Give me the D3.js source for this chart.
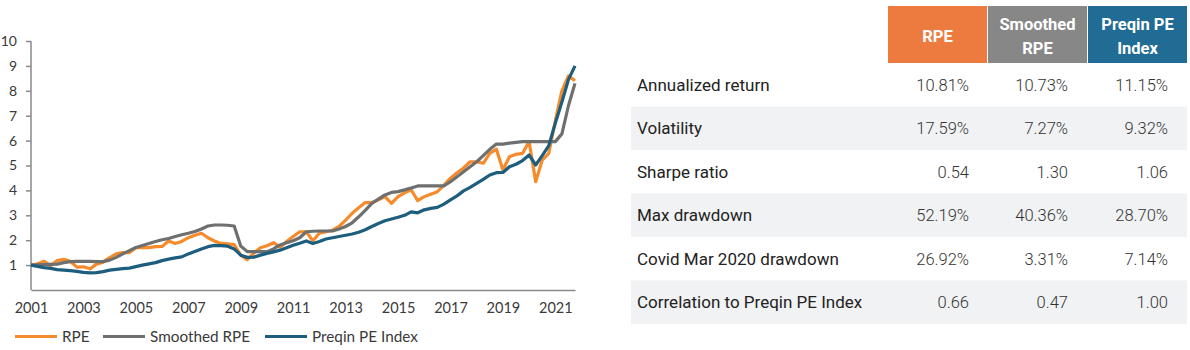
<!DOCTYPE html>
<html><head><meta charset="utf-8">
<script src="https://cdn.jsdelivr.net/npm/d3@7"></script>
<style>
html,body{margin:0;padding:0;background:#fff;}
svg{display:block;}
</style></head>
<body>
<svg id="c" width="1190" height="350"></svg>
<script>
// ---- data ----
const startYear = 2001;           // first quarter 2001 Q1
const quartersPerYear = 4;
const rpe = [
 1.00,1.05,1.15,0.97, 1.18,1.23,1.15,0.92, 0.93,0.85,1.04,1.12, 1.30,1.45,1.50,1.50,
 1.70,1.70,1.70,1.74, 1.75,1.97,1.87,1.95, 2.10,2.20,2.28,2.10, 1.97,1.87,1.85,1.82,
 1.40,1.22,1.48,1.70, 1.78,1.90,1.72,1.95, 2.15,2.34,2.34,1.98, 2.28,2.34,2.40,2.55,
 2.81,3.08,3.30,3.51, 3.51,3.62,3.75,3.48, 3.75,3.90,4.02,3.59, 3.75,3.85,3.95,4.20,
 4.49,4.71,4.90,5.15, 5.15,5.09,5.49,5.66, 4.82,5.35,5.45,5.49, 5.96,4.35,5.22,5.49,
 6.80,8.00,8.60,8.40];
const smoothed = [
 1.00,1.01,1.02,1.03, 1.04,1.10,1.14,1.15, 1.15,1.15,1.14,1.14, 1.20,1.31,1.45,1.58,
 1.71,1.79,1.87,1.95, 2.02,2.07,2.15,2.22, 2.28,2.35,2.45,2.57, 2.61,2.61,2.60,2.57,
 1.77,1.54,1.54,1.54, 1.54,1.65,1.81,1.90, 1.98,2.10,2.34,2.36, 2.37,2.37,2.37,2.45,
 2.55,2.70,2.94,3.20, 3.48,3.65,3.82,3.92, 3.95,4.02,4.10,4.18, 4.18,4.18,4.18,4.18,
 4.35,4.55,4.75,4.95, 5.15,5.40,5.65,5.86, 5.86,5.90,5.93,5.96, 5.96,5.96,5.96,5.96,
 5.96,6.27,7.40,8.30];
const preqin = [
 1.00,0.95,0.90,0.87, 0.82,0.80,0.78,0.75, 0.71,0.69,0.70,0.74, 0.80,0.83,0.86,0.88,
 0.94,1.00,1.05,1.10, 1.18,1.24,1.29,1.33, 1.45,1.55,1.65,1.74, 1.79,1.78,1.76,1.65,
 1.40,1.31,1.32,1.40, 1.47,1.53,1.60,1.70, 1.80,1.88,1.97,1.87, 1.95,2.05,2.10,2.15,
 2.20,2.25,2.32,2.42, 2.55,2.67,2.78,2.85, 2.92,3.00,3.14,3.10, 3.22,3.28,3.32,3.45,
 3.62,3.78,3.98,4.12, 4.28,4.44,4.62,4.71, 4.72,4.95,5.05,5.20, 5.42,5.02,5.40,5.80,
 6.70,7.55,8.45,9.00];
const xTickYears = [2001,2003,2005,2007,2009,2011,2013,2015,2017,2019,2021];
const yTicks = [1,2,3,4,5,6,7,8,9,10];
const seriesNames = ["RPE","Smoothed RPE","Preqin PE Index"];

const tableHeaders = [["RPE"],["Smoothed","RPE"],["Preqin PE","Index"]];
const rowLabels = ["Annualized return","Volatility","Sharpe ratio","Max drawdown","Covid Mar 2020 drawdown","Correlation to Preqin PE Index"];
const rpeStats = ["10.81%","17.59%","0.54","52.19%","26.92%","0.66"];
const smoothedStats = ["10.73%","7.27%","1.30","40.36%","3.31%","0.47"];
const preqinStats = ["11.15%","9.32%","1.06","28.70%","7.14%","1.00"];

// ---- styles ----
const lineColors = ["#F68B2C","#6E6F6F","#1D5E7E"];
const headColors = ["#ED7B3F","#878787","#216C95"];
const chartFont = "Lato, 'Open Sans', sans-serif";
const tableFont = "Roboto, 'Open Sans', sans-serif";

const svg = d3.select("#c");

// ---- chart ----
const t = i => startYear + i / quartersPerYear;
const n = rpe.length;
const x = d3.scaleLinear().domain([startYear, t(n-1)]).range([31, 575]);
const y = d3.scaleLinear().domain([0, 10]).range([290, 41]);

const g = svg.append("g");

// y axis
const yAxis = g.append("g").attr("transform","translate(31,0)")
  .call(d3.axisLeft(y).tickValues(yTicks).tickSize(5).tickPadding(9).tickSizeOuter(0).tickFormat(d3.format("d")));
yAxis.select(".domain").attr("stroke","#8a8a8a").attr("stroke-width",1.5);
yAxis.selectAll(".tick line").attr("stroke","#8a8a8a").attr("stroke-width",1.5);
yAxis.selectAll(".tick text").attr("fill","#3a3a3a").style("font-family",chartFont).style("font-size","14px");
yAxis.select(".domain").attr("d", `M0,${y(10)}V${y(0)}`);

// x axis
const xAxis = g.append("g").attr("transform","translate(0,290)")
  .call(d3.axisBottom(x).tickValues(xTickYears).tickSize(0).tickPadding(13).tickSizeOuter(0).tickFormat(d3.format("d")));
xAxis.select(".domain").attr("stroke","#8a8a8a").attr("stroke-width",1.5);
xAxis.selectAll(".tick text").attr("fill","#3a3a3a").style("font-family",chartFont).style("font-size","14.5px");

const line = d3.line().x((d,i)=>x(t(i))).y(d=>y(d)).curve(d3.curveLinear);
[rpe, smoothed, preqin].forEach((s,k)=>{
  g.append("path").datum(s).attr("d",line).attr("fill","none")
   .attr("stroke",lineColors[k]).attr("stroke-width",3.2).attr("stroke-linejoin","round");
});

// legend
const legendX = [15,103,265];
const lg = svg.append("g");
seriesNames.forEach((nm,k)=>{
  lg.append("line").attr("x1",legendX[k]).attr("x2",legendX[k]+42).attr("y1",336.5).attr("y2",336.5)
    .attr("stroke",lineColors[k]).attr("stroke-width",3.2);
  lg.append("text").attr("x",legendX[k]+47).attr("y",341.8).text(nm)
    .attr("fill","#3a3a3a").style("font-family",chartFont).style("font-size","15.3px");
});

// ---- table ----
const colLeft = [888,988,1088];
const colW = 99;
const colRight = [969,1068,1168];
const tg = svg.append("g");
tableHeaders.forEach((lines,k)=>{
  tg.append("rect").attr("x",colLeft[k]).attr("y",6).attr("width",colW).attr("height",57).attr("fill",headColors[k]);
  const cx = colLeft[k] + colW/2;
  const ys = lines.length===1 ? [41.5] : [30, 53.5];
  lines.forEach((ln,j)=>{
    tg.append("text").attr("x",cx).attr("y",ys[j]).attr("text-anchor","middle").text(ln)
      .attr("fill","#fff").style("font-family",tableFont).style("font-weight","700").style("font-size","16.5px");
  });
});
const rowTop = 63, rowH = 43.5;
rowLabels.forEach((lab,r)=>{
  const top = rowTop + r*rowH;
  if (r % 2 === 1) tg.append("rect").attr("x",631).attr("y",top).attr("width",556).attr("height",rowH).attr("fill","#F1F2F4");
  const base = top + rowH/2 + 6;
  tg.append("text").attr("x",637).attr("y",base).text(lab)
    .attr("fill","#222").style("font-family",tableFont).style("font-size","17px");
  [rpeStats, smoothedStats, preqinStats].forEach((col,k)=>{
    tg.append("text").attr("x",colRight[k]).attr("y",base).attr("text-anchor","end").text(col[r])
      .attr("fill","#333").style("font-family",tableFont).style("font-weight","300").style("font-size","16.5px");
  });
});
</script>
</body></html>
